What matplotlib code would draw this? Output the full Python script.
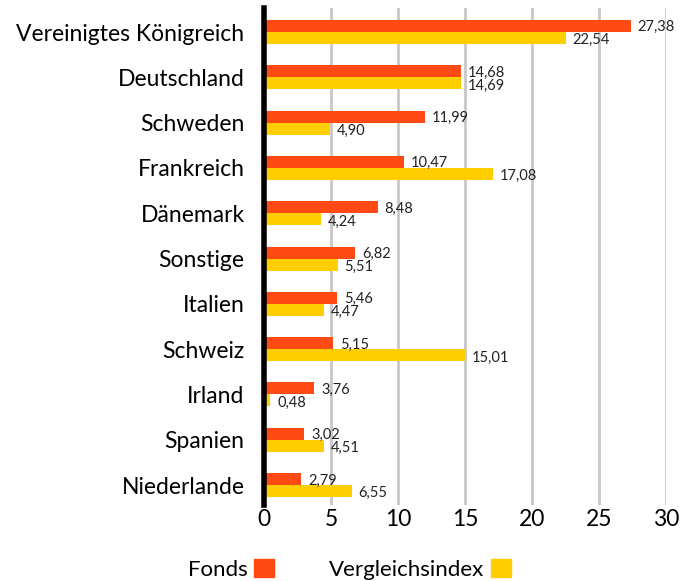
import matplotlib
matplotlib.use('Agg')
import matplotlib.pyplot as plt
import numpy as np
from matplotlib.patches import Patch

# Daten
laender = ['Vereinigtes Königreich', 'Deutschland', 'Schweden', 'Frankreich', 'Dänemark',
           'Sonstige', 'Italien', 'Schweiz', 'Irland', 'Spanien', 'Niederlande']
fonds = [27.38, 14.68, 11.99, 10.47, 8.48, 6.82, 5.46, 5.15, 3.76, 3.02, 2.79]
index = [22.54, 14.69, 4.90, 17.08, 4.24, 5.51, 4.47, 15.01, 0.48, 4.51, 6.55]
x_ticks = [0, 5, 10, 15, 20, 25, 30]

orange = '#FF4A14'
gelb = '#FFCD00'

plt.rcParams['font.family'] = ['Lato', 'DejaVu Sans']

fig = plt.figure(figsize=(6.94, 5.81), dpi=100)
ax = fig.add_axes([264 / 694, 1 - 505 / 581, 402 / 694, 497 / 581])

pos = np.arange(len(laender))
h = 0.265
ax.barh(pos - h / 2, fonds, height=h, color=orange, zorder=3)
ax.barh(pos + h / 2, index, height=h, color=gelb, zorder=3)

# Beschriftungen der Werte
for i, (f, v) in enumerate(zip(fonds, index)):
    ax.text(f + 0.5, i - h / 2 + 0.03, f'{f:.2f}'.replace('.', ','), va='center', ha='left',
            fontsize=10.5, color='#222222')
    ax.text(v + 0.5, i + h / 2 + 0.05, f'{v:.2f}'.replace('.', ','), va='center', ha='left',
            fontsize=10.5, color='#222222')

ax.set_xlim(0, 30)
ax.set_ylim(len(laender) - 1 + 0.44, -0.53)
ax.set_yticks(pos)
ax.set_yticklabels(laender, fontsize=16.5)
ax.set_xticks(x_ticks)
ax.set_xticklabels([str(t) for t in x_ticks], fontsize=16.5)
ax.tick_params(axis='both', length=0)
ax.tick_params(axis='y', pad=14)
ax.tick_params(axis='x', pad=3)

ax.grid(axis='x', color='#C8C8C8', linewidth=2, zorder=0)
for s in ['top', 'right', 'bottom']:
    ax.spines[s].set_visible(False)
ax.spines['left'].set_linewidth(4)
ax.spines['left'].set_color('black')
ax.spines['left'].set_zorder(4)

handles = [Patch(color=orange), Patch(color=gelb)]
fig.legend(handles, ['Fonds', 'Vergleichsindex'], loc='lower left',
           bbox_to_anchor=(168 / 694, -0.032), ncol=2, frameon=False, markerfirst=False,
           fontsize=16, handlelength=0.9, handleheight=0.9, columnspacing=2.45,
           handletextpad=0.3)

plt.savefig('out.png', dpi=100)
